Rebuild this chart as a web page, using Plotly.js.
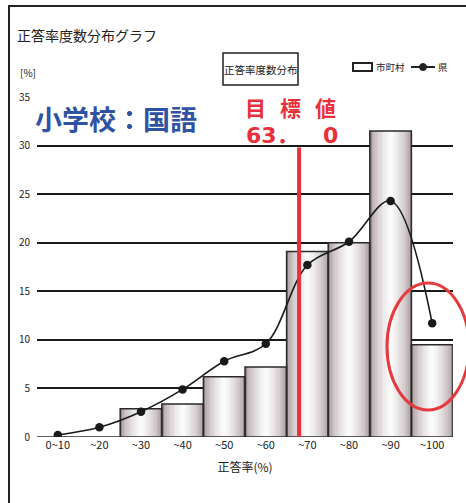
<!DOCTYPE html>
<html><head><meta charset="utf-8">
<script src="https://cdn.plot.ly/plotly-3.0.1.min.js"></script>
<style>html,body{margin:0;padding:0;background:#fff}#chart{width:466px;height:503px}</style>
</head><body><div id="chart"></div>
<script>
// ---- data ----
const categories = ['0~10', '~20', '~30', '~40', '~50', '~60', '~70', '~80', '~90', '~100'];
const cityValues = [0, 0, 2.9, 3.4, 6.2, 7.2, 19.1, 20.0, 31.5, 9.5];   // 市町村 (bars)
const prefValues = [0.2, 1.0, 2.6, 4.9, 7.8, 9.6, 17.7, 20.1, 24.3, 11.7]; // 県 (line)
const yTicks = [0, 5, 10, 15, 20, 25, 30, 35];
const targetValue = 63.0;

// ---- layout geometry ----
const W = 466, H = 503;
const M = {l: 37, r: 13, t: 97, b: 66};
const PW = W - M.l - M.r, PH = H - M.t - M.b;
const px = x => (x - M.l) / PW;
const py = y => (H - M.b - y) / PH;

const JP = '"Noto Sans CJK JP", "Noto Sans", sans-serif';
const NARROW = '"Liberation Sans Narrow", "Noto Sans CJK JP", sans-serif';

// shaded cylinder look: overlaid bars of decreasing width (style only)
const shadeSteps = 12;
const traces = [];
for (let k = 0; k < shadeSteps; k++) {
  const t = k / (shadeSteps - 1);
  const w = 1.0 - 0.9 * t;
  const lum = Math.round(150 + 100 * Math.pow(t, 0.45));
  const color = `rgb(${lum},${Math.round(lum - 12 * (1 - t))},${Math.round(lum - 10 * (1 - t))})`;
  traces.push({
    type: 'bar', x: categories, y: cityValues, width: w,
    marker: {color: color, line: {width: 0}}, showlegend: false, hoverinfo: 'skip'
  });
}
traces.push({
  type: 'bar', x: categories, y: cityValues, width: 1.0, name: '市町村',
  marker: {color: 'rgba(0,0,0,0)', line: {color: '#2a2a2a', width: 1.5}}, showlegend: false
});
traces.push({
  type: 'scatter', mode: 'lines+markers', x: categories, y: prefValues, name: '県',
  line: {color: '#1a1a1a', width: 1.6, shape: 'spline', smoothing: 1},
  marker: {color: '#1a1a1a', size: 8.5, symbol: 'circle'}, showlegend: false
});

const targetIdx = (targetValue - 5) / 10;
const RED = '#e8303a';

const layout = {
  width: W, height: H, margin: M,
  paper_bgcolor: '#fff', plot_bgcolor: '#fff',
  barmode: 'overlay', bargap: 0,
  showlegend: false,
  font: {family: JP, color: '#222'},
  xaxis: {
    type: 'category', range: [-0.5, 9.5], showgrid: false, zeroline: false, showline: false,
    ticks: '', tickfont: {family: NARROW, size: 11, color: '#222'},
    title: {text: '正答率(%)', font: {family: JP, size: 12, color: '#222'}, standoff: 12}
  },
  yaxis: {
    range: [0, 35], tickvals: yTicks, ticktext: yTicks.map(String),
    showgrid: true, gridcolor: '#1a1a1a', gridwidth: 2,
    zeroline: true, zerolinecolor: 'rgba(0,0,0,0)', zerolinewidth: 0,
    showline: false, ticks: '', ticklabelstandoff: 6,
    tickfont: {family: NARROW, size: 10, color: '#222'}
  },
  shapes: [
    {type: 'rect', xref: 'paper', yref: 'paper', x0: px(9), x1: px(480), y0: py(520), y1: py(6),
     line: {color: '#222', width: 2}, fillcolor: 'rgba(0,0,0,0)', layer: 'below'},
    {type: 'rect', xref: 'paper', yref: 'paper', x0: px(223), x1: px(298), y0: py(85), y1: py(53),
     line: {color: '#222', width: 1.5}},
    {type: 'rect', xref: 'paper', yref: 'paper', x0: px(353), x1: px(372), y0: py(71), y1: py(63),
     line: {color: '#222', width: 2}, fillcolor: '#fff'},
    {type: 'line', xref: 'paper', yref: 'paper', x0: px(411), x1: px(435), y0: py(67), y1: py(67),
     line: {color: '#222', width: 2}},
    {type: 'circle', xref: 'paper', yref: 'paper', x0: px(419.5), x1: px(426.5), y0: py(70.5), y1: py(63.5),
     line: {color: '#222', width: 1}, fillcolor: '#222'},
    {type: 'line', xref: 'x', yref: 'y', x0: targetIdx, x1: targetIdx, y0: 0, y1: 29.8,
     line: {color: RED, width: 4}, layer: 'above'},
    {type: 'circle', xref: 'paper', yref: 'paper', x0: px(387), x1: px(469), y0: py(410), y1: py(283),
     line: {color: '#e53a3e', width: 3}, fillcolor: 'rgba(0,0,0,0)'}
  ],
  annotations: [
    {xref: 'paper', yref: 'paper', x: px(15), y: py(35), xanchor: 'left', yanchor: 'middle', showarrow: false,
     text: '正答率度数分布グラフ', font: {family: JP, size: 14, color: '#222'}},
    {xref: 'paper', yref: 'paper', x: px(18), y: py(72), xanchor: 'left', yanchor: 'middle', showarrow: false,
     text: '[%]', font: {family: NARROW, size: 10, color: '#222'}},
    {xref: 'paper', yref: 'paper', x: px(260.5), y: py(69), xanchor: 'center', yanchor: 'middle', showarrow: false,
     text: '正答率度数分布', font: {family: JP, size: 10.5, color: '#222'}},
    {xref: 'paper', yref: 'paper', x: px(374), y: py(67), xanchor: 'left', yanchor: 'middle', showarrow: false,
     text: '市町村', font: {family: JP, size: 9.5, color: '#222'}},
    {xref: 'paper', yref: 'paper', x: px(436), y: py(67), xanchor: 'left', yanchor: 'middle', showarrow: false,
     text: '県', font: {family: JP, size: 9.5, color: '#222'}},
    {xref: 'paper', yref: 'paper', x: px(33), y: py(118), xanchor: 'left', yanchor: 'middle', showarrow: false,
     text: '<b>小学校：国語</b>', font: {family: JP, size: 27, color: '#2f53a3'}},
    // 目標値 (letter-spaced as in the reference)
    {xref: 'paper', yref: 'paper', x: px(255), y: py(107), xanchor: 'center', yanchor: 'middle', showarrow: false,
     text: '<b>目</b>', font: {family: JP, size: 21, color: RED}},
    {xref: 'paper', yref: 'paper', x: px(290), y: py(107), xanchor: 'center', yanchor: 'middle', showarrow: false,
     text: '<b>標</b>', font: {family: JP, size: 21, color: RED}},
    {xref: 'paper', yref: 'paper', x: px(325), y: py(107), xanchor: 'center', yanchor: 'middle', showarrow: false,
     text: '<b>値</b>', font: {family: JP, size: 21, color: RED}},
    // 63．0
    {xref: 'paper', yref: 'paper', x: px(244), y: py(135), xanchor: 'left', yanchor: 'middle', showarrow: false,
     text: '<b>63．</b>', font: {family: '"DejaVu Sans", "Noto Sans CJK JP", sans-serif', size: 22, color: RED}},
    {xref: 'paper', yref: 'paper', x: px(340), y: py(135), xanchor: 'right', yanchor: 'middle', showarrow: false,
     text: '<b>0</b>', font: {family: '"DejaVu Sans", sans-serif', size: 22, color: RED}}
  ]
};

Plotly.newPlot('chart', traces, layout, {staticPlot: true, displayModeBar: false});
</script>
</body></html>
